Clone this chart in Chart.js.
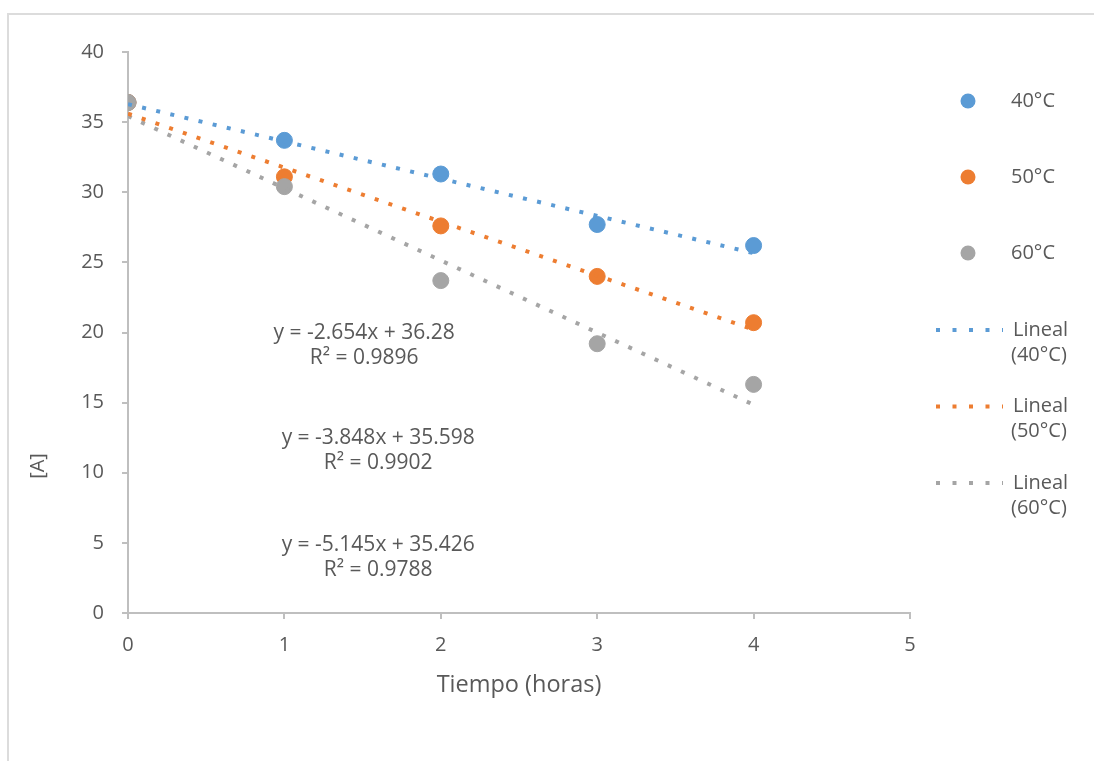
<!DOCTYPE html>
<html>
<head>
<meta charset="utf-8">
<script src="https://cdn.jsdelivr.net/npm/chart.js@4"></script>
<style>
  html, body { margin: 0; padding: 0; background: #fff; overflow: hidden; }
  #frame { position: absolute; left: 7px; top: 13px; width: 1200px; height: 800px; border: 2px solid #dcdcdc; }
  #chart { position: absolute; left: 0; top: 0; }
</style>
</head>
<body>
<div id="frame"></div>
<canvas id="chart" width="1094" height="761"></canvas>
<script>
// values
const hours = [0, 1, 2, 3, 4];
const a40 = [36.4, 33.7, 31.3, 27.7, 26.2];
const a50 = [36.4, 31.1, 27.6, 24.0, 20.7];
const a60 = [36.4, 30.4, 23.7, 19.2, 16.3];

// trend line ends (x = 0 and x = 4)
const trendX = [0, 4];
const trend40 = [36.28, 25.66];
const trend50 = [35.60, 20.21];
const trend60 = [35.43, 14.85];

const seriesNames = ['40°C', '50°C', '60°C'];
const colors = ['#5B9BD5', '#ED7D31', '#A5A5A5'];
const equations = [
  ['y = -2.654x + 36.28', 'R² = 0.9896'],
  ['y = -3.848x + 35.598', 'R² = 0.9902'],
  ['y = -5.145x + 35.426', 'R² = 0.9788']
];
const eqAnchors = [[1.51, 19.05], [1.60, 11.55], [1.60, 3.95]];

const yTicks = [0, 5, 10, 15, 20, 25, 30, 35, 40];
const xTicks = [0, 1, 2, 3, 4, 5];

const FONT = 'Open Sans';
const TEXT = '#595959';

const pts = (xs, ys) => xs.map((x, i) => ({ x: x, y: ys[i] }));

const pointSet = (i, ys, order) => ({
  label: seriesNames[i],
  data: pts(hours, ys),
  backgroundColor: colors[i],
  borderColor: colors[i],
  pointRadius: 8,
  pointHoverRadius: 8,
  showLine: false,
  order: order
});
const trendSet = (i, ys) => ({
  label: 'Lineal (' + seriesNames[i] + ')',
  data: pts(trendX, ys),
  borderColor: colors[i],
  borderWidth: 4,
  borderDash: [4, 10.5],
  pointRadius: 0,
  showLine: true,
  order: 0
});

const extras = {
  id: 'extras',
  afterDraw(chart) {
    const ctx = chart.ctx;
    const xs = chart.scales.x, ys = chart.scales.y;
    ctx.save();
    ctx.fillStyle = TEXT;
    ctx.font = '21px "' + FONT + '"';
    ctx.textAlign = 'center';
    ctx.textBaseline = 'middle';
    // trend equations
    equations.forEach((lines, i) => {
      const cx = xs.getPixelForValue(eqAnchors[i][0]);
      const cy = ys.getPixelForValue(eqAnchors[i][1]);
      ctx.fillText(lines[0], cx, cy - 12.5);
      ctx.fillText(lines[1], cx, cy + 12.5);
    });
    // y axis title
    ctx.font = '20px "' + FONT + '"';
    ctx.save();
    ctx.translate(38, 466);
    ctx.rotate(-Math.PI / 2);
    ctx.fillText('[A]', 0, 0);
    ctx.restore();
    // legend
    ctx.textAlign = 'left';
    seriesNames.forEach((name, i) => {
      const y = 101 + i * 76;
      ctx.fillStyle = colors[i];
      ctx.beginPath();
      ctx.arc(968, y, 7.5, 0, Math.PI * 2);
      ctx.fill();
      ctx.fillStyle = TEXT;
      ctx.fillText(name, 1011, y);
    });
    seriesNames.forEach((name, i) => {
      const y = 330 + i * 76.5;
      ctx.strokeStyle = colors[i];
      ctx.lineWidth = 4;
      ctx.setLineDash([4, 12.5]);
      ctx.beginPath();
      ctx.moveTo(936, y);
      ctx.lineTo(1003, y);
      ctx.stroke();
      ctx.fillStyle = TEXT;
      ctx.fillText('Lineal', 1013, y);
      ctx.fillText('(' + name + ')', 1011, y + 25);
    });
    ctx.restore();
  }
};

new Chart(document.getElementById('chart'), {
  type: 'scatter',
  data: {
    datasets: [
      pointSet(0, a40, 3),
      pointSet(1, a50, 2),
      pointSet(2, a60, 1),
      trendSet(0, trend40),
      trendSet(1, trend50),
      trendSet(2, trend60)
    ]
  },
  options: {
    responsive: false,
    animation: false,
    layout: { padding: { top: 52, right: 184, bottom: 0, left: 0 } },
    plugins: {
      legend: { display: false },
      tooltip: { enabled: false }
    },
    scales: {
      x: {
        type: 'linear',
        min: 0,
        max: 5,
        afterFit: s => { s.height = 148; },
        afterBuildTicks: s => { s.ticks = xTicks.map(v => ({ value: v })); },
        grid: { drawOnChartArea: false, drawTicks: true, tickLength: 6, color: '#bfbfbf', lineWidth: 2 },
        border: { color: '#bfbfbf', width: 2 },
        ticks: { color: TEXT, font: { family: FONT, size: 20 }, padding: 14, maxRotation: 0 },
        title: {
          display: true,
          text: 'Tiempo (horas)',
          color: TEXT,
          font: { family: FONT, size: 23.5 },
          padding: { top: 0, bottom: 62 }
        }
      },
      y: {
        min: 0,
        max: 40,
        afterFit: s => { s.width = 128; },
        afterBuildTicks: s => { s.ticks = yTicks.map(v => ({ value: v })); },
        grid: { drawOnChartArea: false, drawTicks: true, tickLength: 6, color: '#bfbfbf', lineWidth: 2 },
        border: { color: '#bfbfbf', width: 2 },
        ticks: { color: TEXT, font: { family: FONT, size: 20 }, padding: 18 }
      }
    }
  },
  plugins: [extras]
});
</script>
</body>
</html>
